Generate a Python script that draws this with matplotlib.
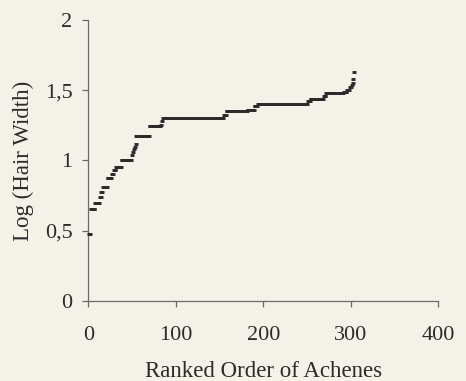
import numpy as np
import matplotlib
matplotlib.use("Agg")
import matplotlib.pyplot as plt
from matplotlib.ticker import FixedLocator, FixedFormatter

# log10 hair width levels, with how many achenes sit on each
log_width = [0.477, 0.653, 0.699, 0.740, 0.778, 0.813, 0.875, 0.903, 0.929, 0.954,
             1.000, 1.041, 1.061, 1.079, 1.097, 1.114, 1.176, 1.243, 1.255, 1.279,
             1.301, 1.322, 1.352, 1.362, 1.385, 1.403, 1.420, 1.440, 1.460, 1.483,
             1.490, 1.505, 1.520, 1.537, 1.554, 1.578, 1.632]
n_achenes = [2, 5, 5, 2, 2, 5, 5, 2, 3, 6,
             12, 1, 1, 1, 1, 1, 15, 13, 1, 1,
             70, 3, 24, 8, 4, 57, 3, 15, 3, 20,
             4, 3, 2, 1, 1, 1, 1]

xticks = [0, 100, 200, 300, 400]
yticks = [0, 0.5, 1, 1.5, 2]
ytick_labels = ["0", "0,5", "1", "1,5", "2"]

values = np.repeat(log_width, n_achenes)
rank = np.arange(1, len(values) + 1)

bg = "#f4f2e8"
ink = "#2b2b2b"
axis_col = "#6a6a6a"

plt.rcParams["font.family"] = ["Liberation Serif", "DejaVu Serif"]

fig = plt.figure(figsize=(4.66, 3.81), dpi=100, facecolor=bg)
ax = fig.add_axes([0.1895, 0.21, 0.751, 0.7375], facecolor=bg)

ax.plot(rank, values, linestyle="none", marker="_", markersize=3.2,
        markeredgewidth=2.1, color=ink, clip_on=False, zorder=3)

ax.set_xlim(0, 400)
ax.set_ylim(0, 2)
for side in ["top", "right"]:
    ax.spines[side].set_visible(False)
for side in ["left", "bottom"]:
    ax.spines[side].set_color(axis_col)
    ax.spines[side].set_linewidth(0.9)

ax.xaxis.set_major_locator(FixedLocator(xticks))
ax.yaxis.set_major_locator(FixedLocator(yticks))
ax.yaxis.set_major_formatter(FixedFormatter(ytick_labels))
ax.tick_params(axis="both", direction="out", length=4.3, width=0.9,
               color=axis_col, labelsize=16, labelcolor=ink)
ax.tick_params(axis="x", pad=14)
ax.tick_params(axis="y", pad=7)

ax.set_xlabel("Ranked Order of Achenes", fontsize=16.5, color=ink, labelpad=11)
ax.set_ylabel("Log (Hair Width)", fontsize=16.5, color=ink, labelpad=8)

fig.savefig("out.png", dpi=100, facecolor=bg)
